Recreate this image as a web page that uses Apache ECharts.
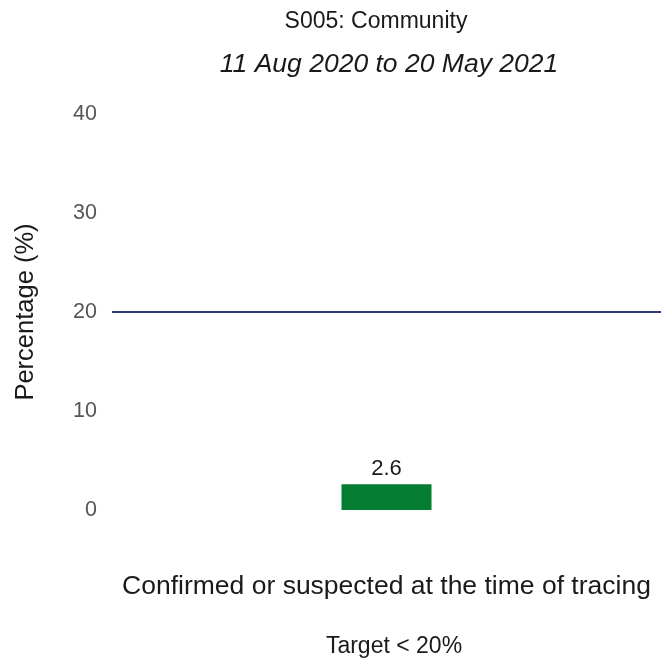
<!DOCTYPE html>
<html><head><meta charset="utf-8">
<script src="https://cdn.jsdelivr.net/npm/echarts@6/dist/echarts.min.js"></script>
<style>html,body{margin:0;padding:0;background:#fff}#c{width:661px;height:660px}</style>
</head><body><div id="c"></div>
<script>
const categories = ["Confirmed or suspected at the time of tracing"];
const values = [2.6];
const targetValue = 20;
const yTicks = [0, 10, 20, 30, 40];

const chart = echarts.init(document.getElementById('c'), null, {renderer: 'canvas'});
const F = 'Liberation Sans, Arial, sans-serif';
chart.setOption({
  animation: false,
  title: [
    {text: 'S005: Community', left: 371, top: 5, textAlign: 'center',
     textStyle: {fontFamily: F, fontSize: 23, fontWeight: 'normal', color: '#1a1a1a'}},
    {text: '11 Aug 2020 to 20 May 2021', left: 384, top: 46, textAlign: 'center',
     textStyle: {fontFamily: F, fontSize: 26.5, fontStyle: 'italic', fontWeight: 'normal', color: '#1a1a1a'}},
    {text: 'Target < 20%', left: 389, top: 630, textAlign: 'center',
     textStyle: {fontFamily: F, fontSize: 23, fontWeight: 'normal', color: '#1a1a1a'}}
  ],
  grid: {left: 112, right: 0, top: 114, bottom: 150, outerBoundsMode: 'none', containLabel: false},
  xAxis: {
    type: 'category', data: categories,
    axisLine: {show: false}, axisTick: {show: false},
    axisLabel: {margin: 63, fontFamily: F, fontSize: 26.5, color: '#1a1a1a'}
  },
  yAxis: {
    type: 'value', min: yTicks[0], max: yTicks[yTicks.length - 1], interval: 10,
    name: 'Percentage (%)', nameLocation: 'middle', nameGap: 73, nameRotate: 90,
    nameTextStyle: {fontFamily: F, fontSize: 25.5, color: '#1a1a1a'},
    axisLine: {show: false}, axisTick: {show: false}, splitLine: {show: false},
    axisLabel: {margin: 15, fontFamily: F, fontSize: 21.5, color: '#555'}
  },
  series: [{
    type: 'bar', data: values, barWidth: 90,
    itemStyle: {color: '#047d33'},
    label: {show: true, position: 'top', distance: 4, fontFamily: F, fontSize: 22, color: '#1a1a1a'},
    markLine: {
      symbol: 'none', silent: true, label: {show: false},
      lineStyle: {color: '#2d3a78', width: 2, type: 'solid'},
      data: [{yAxis: targetValue}]
    }
  }]
});
</script></body></html>
